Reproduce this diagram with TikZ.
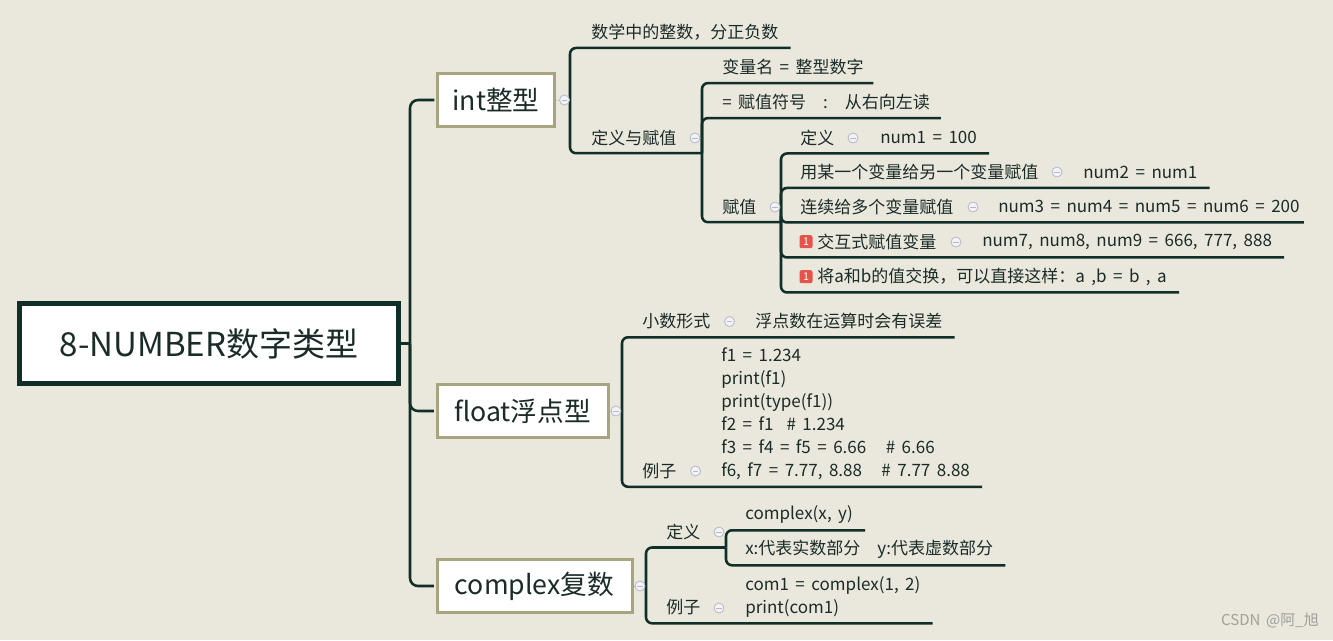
\documentclass[tikz,border=0pt]{standalone}
\usepackage{fontspec}
\setmainfont[WordSpace=1.7]{Noto Sans CJK SC}
\definecolor{bgcol}{HTML}{EAE8DC}
\definecolor{linecol}{HTML}{0F2F28}
\definecolor{textcol}{HTML}{1A2B28}
\definecolor{boxcol}{HTML}{A8A47F}
\definecolor{foldcol}{HTML}{B4B8C8}
\definecolor{foldfill}{HTML}{F3F3F6}
\definecolor{badgecol}{HTML}{E5534B}
\definecolor{wmcol}{HTML}{A0A09A}

\begin{document}
\begin{tikzpicture}[
  x=0.75pt, y=-0.75pt,
  link/.style={line width=1.9pt, draw=linecol, rounded corners=4.5pt},
  rootbox/.style={draw=linecol, fill=white, line width=3.75pt, minimum width=284.25pt, minimum height=60pt, text=textcol, font=\fontsize{24.75}{28}\selectfont},
  branchbox/.style={draw=boxcol, fill=white, line width=2.25pt, minimum height=39.75pt, inner sep=0pt, text=textcol, font=\fontsize{20}{24}\selectfont},
  topic/.style={anchor=west, inner sep=0pt, minimum height=23.25pt, text=textcol, font=\fontsize{12.75}{17.25}\selectfont},
  codeblock/.style={anchor=west, inner sep=0pt, align=left, text=textcol, font=\fontsize{12.75}{17.25}\selectfont},
  fold/.style={circle, draw=foldcol, fill=foldfill, line width=0.6pt, minimum size=7.5pt, inner sep=0pt,
    path picture={\draw[foldcol, line width=0.7pt] ([xshift=-2pt]path picture bounding box.center) -- ([xshift=2pt]path picture bounding box.center);}},
  stub/.style={draw=foldcol, line width=0.6pt, densely dotted},
  badge/.style={fill=badgecol, rounded corners=1.5pt, minimum size=9.75pt, inner sep=0pt, text=white, font=\fontsize{8}{8}\selectfont}
]
  \fill[bgcol] (0,0) rectangle (1333,640);
  \useasboundingbox (0,0) rectangle (1333,640);

  % centro y ramas principales
  \node[rootbox] (root) at (209,343.5) {8-NUMBER数字类型};
  \node[branchbox, minimum width=87.75pt] (int) at (496,100) {int整型};
  \node[branchbox, minimum width=128.25pt] (float) at (522.5,411) {float浮点型};
  \node[branchbox, minimum width=146.25pt] (cplx) at (534.5,586) {complex复数};

  \coordinate (trunk) at (410,343.5);
  \draw[link] (root.east) -- (trunk);
  \draw[link, rounded corners=6pt, shorten >=1.2pt] (trunk) |- (int.west);
  \draw[link, rounded corners=6pt, shorten >=1.2pt] (trunk) |- (float.west);
  \draw[link, rounded corners=6pt, shorten >=1.2pt] (trunk) |- (cplx.west);

  % int
  \coordinate (intc) at (570,100);
  \node[topic] (i1) at (591,32.2) {数学中的整数，分正负数};
  \node[topic] (i2) at (591,137.7) {定义与赋值};
  \coordinate (i2c) at (702,153.2);
  \draw[link] (intc) |- ([xshift=9pt]i1.south east);
  \draw[link] (intc) |- (i2c);

  \node[topic] (d1) at (722,67.3) {变量名 = 整型数字};
  \node[topic] (d2) at (722,102.3) {= 赋值符号\quad:\quad 从右向左读};
  \node[topic] (d3) at (722,206.7) {赋值};
  \coordinate (d3c) at (781,222.2);
  \draw[link] (i2c) |- ([xshift=7pt]d1.south east);
  \draw[link] (i2c) |- ([xshift=8pt]d2.south east);
  \draw[link] (i2c) |- (d3c);

  \node[topic] (a1) at (800,137.7) {定义};
  \node[topic] (a1v) at (880,137.7) {num1 = 100};
  \node[topic] (a2) at (800,172.2) {用某一个变量给另一个变量赋值};
  \node[topic] (a2v) at (1083,172.2) {num2 = num1};
  \node[topic] (a3) at (800,206.7) {连续给多个变量赋值};
  \node[topic] (a3v) at (998,206.7) {num3 = num4 = num5 = num6 = 200};
  \node[badge] (b4) at (806,241.7) {1};
  \node[topic] (a4) at (817,241.7) {交互式赋值变量};
  \node[topic] (a4v) at (982,241.7) {num7, num8, num9 = 666, 777, 888};
  \node[badge] (b5) at (806,276.7) {1};
  \node[topic] (a5) at (817,276.7) {将a和b的值交换，可以直接这样：a ,b = b , a};
  \draw[link] (d3c) |- ([xshift=9pt]a1v.south east);
  \draw[link] (d3c) |- ([xshift=9pt]a2v.south east);
  \draw[link] (d3c) |- ([xshift=3pt]a3v.south east);
  \draw[link] (d3c) |- ([xshift=9pt]a4v.south east);
  \draw[link] (d3c) |- ([xshift=9pt]a5.south east);

  % float
  \coordinate (flc) at (622,411);
  \node[topic] (f1) at (642,321.5) {小数形式};
  \node[topic] (f1v) at (755,321.5) {浮点数在运算时会有误差};
  \node[topic] (f2) at (642,471) {例子};
  \node[codeblock] (f2v) at (721,413.5) {f1 = 1.234\\print(f1)\\print(type(f1))\\f2 = f1 \ \# 1.234\\f3 = f4 = f5 = 6.66 \ \ \# 6.66\\f6, f7 = 7.77, 8.88 \ \ \# 7.77 8.88};
  \draw[link] (flc) |- ([xshift=9pt]f1v.south east);
  \draw[link] (flc) |- ([xshift=9pt]f2v.east |- f2.south);

  % complex
  \coordinate (cpc) at (646,586);
  \node[topic] (c1) at (666,532) {定义};
  \coordinate (c1c) at (726,547.5);
  \node[topic] (c11) at (745,514.5) {complex(x, y)};
  \node[topic] (c12) at (745,549.5) {x:代表实数部分\quad y:代表虚数部分};
  \node[topic] (c2) at (666,607.5) {例子};
  \node[codeblock] (c2v) at (745,596.5) {com1 = complex(1, 2)\\print(com1)};
  \draw[link] (cpc) |- (c1c);
  \draw[link] (c1c) |- ([xshift=9pt]c11.south east);
  \draw[link] (c1c) |- ([xshift=9pt]c12.south east);
  \draw[link] (cpc) |- ([xshift=9pt]c2v.east |- c2.south);

  % marcas de plegado
  \node[fold] (intf) at (564.5,100) {};
  \node[fold] (floatf) at (616,411) {};
  \node[fold] (cplxf) at (640,586) {};
  \draw[stub] (int.east) -- (intf);
  \draw[stub] (float.east) -- (floatf);
  \draw[stub] (cplx.east) -- (cplxf);
  \node[fold] (i2f) at (695,138) {};
  \node[fold] (d3f) at (775,207) {};
  \node[fold] (a1f) at (853,138) {};
  \node[fold] (a2f) at (1057,172) {};
  \node[fold] (a3f) at (973,207) {};
  \node[fold] (a4f) at (956,242) {};
  \node[fold] (f1f) at (729.5,321.5) {};
  \node[fold] (f2f) at (695.5,471) {};
  \node[fold] (c1f) at (719,532) {};
  \node[fold] (c2f) at (719,608) {};

  \node[text=wmcol, font=\fontsize{11.25}{13}\selectfont] (wm) at (1270,620) {CSDN @阿\_旭};
\end{tikzpicture}
\end{document}
